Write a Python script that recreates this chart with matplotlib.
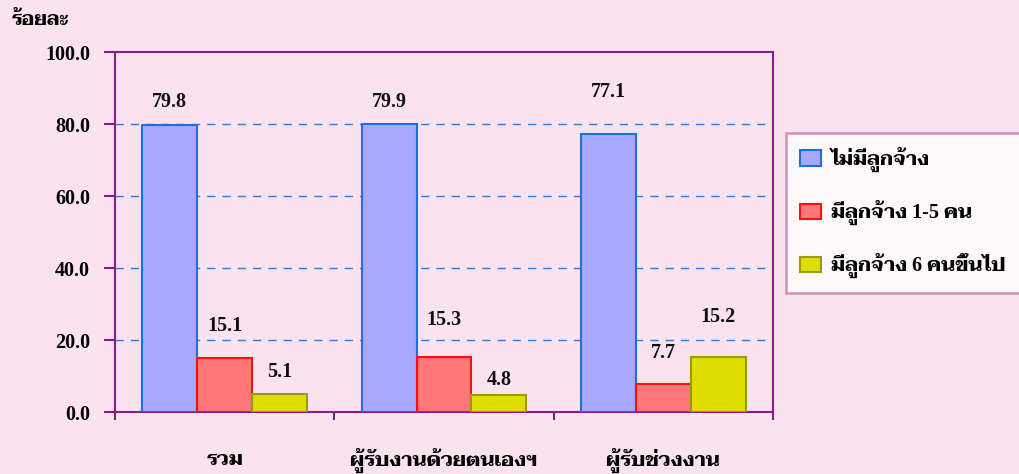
import matplotlib
matplotlib.use('Agg')
import matplotlib.pyplot as plt
import matplotlib.transforms as mtransforms
import numpy as np

# digits from a Times-like face, Thai from Taviraj
plt.rcParams['font.family'] = ['Liberation Serif', 'Taviraj']
plt.rcParams['font.weight'] = 'bold'

categories = ['รวม', 'ผู้รับงานด้วยตนเองฯ', 'ผู้รับช่วงงาน']
series = ['ไม่มีลูกจ้าง', 'มีลูกจ้าง 1-5 คน', 'มีลูกจ้าง 6 คนขึ้นไป']
no_emp = [79.8, 79.9, 77.1]
emp_1_5 = [15.1, 15.3, 7.7]
emp_6_up = [5.1, 4.8, 15.2]
yticks = [0, 20, 40, 60, 80, 100]

# label offsets above the bars (data units), as placed in the original
label_off = [[6.3, 6.2, 11.8], [8.8, 10.3, 8.7], [6.0, 4.1, 11.2]]

faces = ['#A8A8FF', '#FF7878', '#DEDE00']
edges = ['#1F6FD8', '#FF1010', '#9A9A10']
bg = '#FAE3EF'
purple = '#8A1A8A'

fig = plt.figure(figsize=(10.2, 4.74), dpi=100, facecolor=bg)
ax = fig.add_axes([115 / 1020, 1 - 412 / 474, (773 - 115) / 1020, 360 / 474])
ax.set_facecolor(bg)

x = np.arange(len(categories))
w = 0.25
handles = []
for k, vals in enumerate([no_emp, emp_1_5, emp_6_up]):
    pos = x + (k - 1) * w
    b = ax.bar(pos, vals, width=w, color=faces[k], edgecolor=edges[k],
               linewidth=1.5, zorder=3, label=series[k])
    handles.append(b)
    for p, v, o in zip(pos, vals, label_off[k]):
        ax.text(p, v + o, '%.1f' % v, ha='center', va='center',
                fontsize=14.5, fontweight='bold', color='#111111', zorder=4)

ax.set_xlim(-0.5, 2.5)
ax.set_ylim(0, 100)
ax.set_yticks(yticks)
ax.set_yticklabels(['%.1f' % t for t in yticks], fontsize=14.5, fontweight='bold')
for t in yticks[1:-1]:
    ax.axhline(t, color='#2F7BDA', linestyle=(0, (6, 5)), linewidth=1, zorder=1)

ax.set_xticks([-0.5, 0.5, 1.5, 2.5])
ax.set_xticklabels([])
ax.tick_params(axis='x', direction='out', length=6, color=purple, width=1.5)
ax.tick_params(axis='y', direction='out', length=8, color=purple, width=1.5,
               pad=10)
for s in ax.spines.values():
    s.set_color(purple)
    s.set_linewidth(1.5)

# category names sit well below the axis
trans = mtransforms.blended_transform_factory(ax.transData, fig.transFigure)
for xi, c in zip(x, categories):
    ax.text(xi, 1 - 460 / 474, c, transform=trans, ha='center', va='center',
            fontsize=14.5, fontweight='bold')

fig.text(12 / 1020, 1 - 20 / 474, 'ร้อยละ', fontsize=14, fontweight='bold',
         ha='left', va='center')

leg = fig.legend(handles=handles, loc='upper left',
                 bbox_to_anchor=(786 / 1020, 1 - 133 / 474),
                 prop={'size': 14.5, 'weight': 'bold'}, frameon=True,
                 fancybox=False, labelspacing=1.38, handlelength=1.05,
                 handleheight=0.8, handletextpad=0.5, borderpad=0.7,
                 borderaxespad=0)
leg.get_frame().set_facecolor('white')
leg.get_frame().set_edgecolor('#C57AA0')
leg.get_frame().set_linewidth(1.8)

fig.savefig('out.png', dpi=100, facecolor=bg)
